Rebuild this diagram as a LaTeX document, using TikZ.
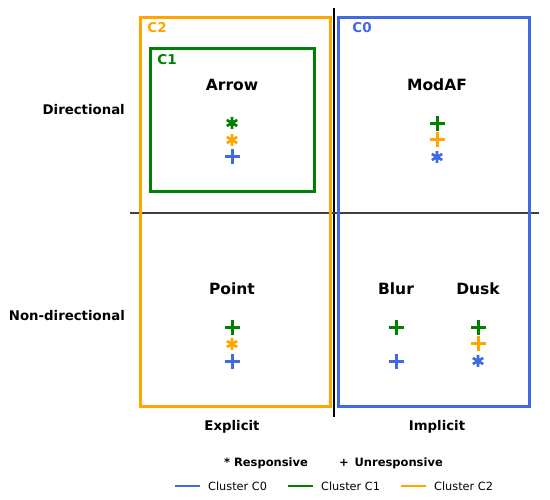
\documentclass[tikz,border=0pt]{standalone}
\usepackage{fontspec}
\setmainfont{DejaVu Sans}
\usetikzlibrary{positioning}
\definecolor{clustercolor0}{rgb}{0.255,0.412,0.882}
\definecolor{clustercolor1}{rgb}{0.0,0.502,0.0}
\definecolor{clustercolor2}{rgb}{1.0,0.647,0.0}
\tikzset{
  quadname/.style={font=\fontsize{15.5}{18}\selectfont\bfseries, inner sep=0pt},
  axisname/.style={font=\fontsize{13.3}{16}\selectfont\bfseries, inner sep=0pt},
  boxname/.style={font=\fontsize{13.5}{16}\selectfont\bfseries, inner sep=0pt},
  keyname/.style={font=\fontsize{11.5}{14}\selectfont\bfseries, inner sep=0pt},
  legendname/.style={font=\fontsize{11.3}{14}\selectfont, inner sep=0pt, anchor=west},
  clusterbox/.style={line width=3pt},
  plusmark/.pic={\draw[line width=3pt] (-7.5,0) -- (7.5,0) (0,-7.5) -- (0,7.5);},
  starmark/.pic={\draw[line width=2.6pt] (0,-6) -- (0,6) (-5.2,-3) -- (5.2,3) (-5.2,3) -- (5.2,-3);}
}
\begin{document}
\begin{tikzpicture}[x=1pt,y=-1pt]
\useasboundingbox (0,0) rectangle (550,500);
% axes
\draw[line width=1.6pt, black] (334,8) -- (334,417);
\draw[line width=1.4pt, black!75] (130,213) -- (539,213);
% cluster boxes
\draw[clusterbox, draw=clustercolor2] (140,18) rectangle (330,407);
\draw[clusterbox, draw=clustercolor1] (150,49) rectangle (314,192);
\draw[clusterbox, draw=clustercolor0] (338,18) rectangle (529,407);
\node[boxname, text=clustercolor2] (c2) at (157,28) {C2};
\node[boxname, text=clustercolor1] (c1) at (167,60) {C1};
\node[boxname, text=clustercolor0] (c0) at (362,28) {C0};
% axis labels
\node[axisname, anchor=east] (dir) at (125,110) {Directional};
\node[axisname, anchor=east] (nondir) at (125,316) {Non-directional};
\node[axisname] (expl) at (232,427) {Explicit};
\node[axisname] (impl) at (437,427) {Implicit};
% quadrant names
\node[quadname] (arrow) at (232,85) {Arrow};
\node[quadname] (modaf) at (437,85) {ModAF};
\node[quadname] (point) at (232,289) {Point};
\node[quadname] (blur) at (396,289) {Blur};
\node[quadname] (dusk) at (478,289) {Dusk};
% markers
\pic[color=clustercolor1] at (232,123) {starmark};
\pic[color=clustercolor2] at (232,140) {starmark};
\pic[color=clustercolor0] at (232,157) {plusmark};
\pic[color=clustercolor1] at (437,124) {plusmark};
\pic[color=clustercolor2] at (437,140) {plusmark};
\pic[color=clustercolor0] at (437,157) {starmark};
\pic[color=clustercolor1] at (232,328) {plusmark};
\pic[color=clustercolor2] at (232,344) {starmark};
\pic[color=clustercolor0] at (232,362) {plusmark};
\pic[color=clustercolor1] at (396,328) {plusmark};
\pic[color=clustercolor0] at (396,362) {plusmark};
\pic[color=clustercolor1] at (478,328) {plusmark};
\pic[color=clustercolor2] at (478,344) {plusmark};
\pic[color=clustercolor0] at (478,361) {starmark};
% key
\node[keyname] (resp) at (266,463) {* Responsive};
\node[keyname] (unresp) at (391,463) {+\enspace Unresponsive};
\draw[line width=2.5pt, clustercolor0] (175,486) -- (200,486);
\node[legendname] (leg0) at (208,486) {Cluster C0};
\draw[line width=2.5pt, clustercolor1] (288,486) -- (313,486);
\node[legendname] (leg1) at (321,486) {Cluster C1};
\draw[line width=2.5pt, clustercolor2] (401,486) -- (426,486);
\node[legendname] (leg2) at (434,486) {Cluster C2};
\end{tikzpicture}
\end{document}
